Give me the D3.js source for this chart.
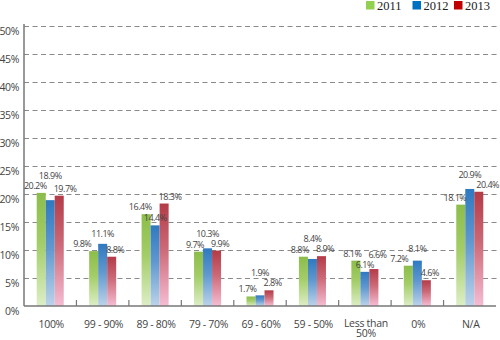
<!DOCTYPE html>
<html>
<head>
<meta charset="utf-8">
<script src="https://cdn.jsdelivr.net/npm/d3@7"></script>
<style>
  html, body { margin: 0; padding: 0; background: #fff; }
  svg { display: block; }
  .tick-label { font-family: "Open Sans", sans-serif; fill: #444; }
  .val-label { font-family: "Open Sans", sans-serif; fill: #444; font-size: 9px; letter-spacing: -0.5px; }
  .legend-text { font-family: "Liberation Serif", serif; fill: #222; font-size: 12.5px; }
</style>
</head>
<body>
<svg id="chart" width="500" height="340"></svg>
<script>
// ── Data ────────────────────────────────────────────────────────────────
const categories = ['100%', '99 - 90%', '89 - 80%', '79 - 70%', '69 - 60%', '59 - 50%', 'Less than 50%', '0%', 'N/A'];
const years = ['2011', '2012', '2013'];
const values2011 = [20.2, 9.8, 16.4, 9.7, 1.7, 8.8, 8.1, 7.2, 18.1];
const values2012 = [18.9, 11.1, 14.4, 10.3, 1.9, 8.4, 6.1, 8.1, 20.9];
const values2013 = [19.7, 8.8, 18.3, 9.9, 2.8, 8.9, 6.6, 4.6, 20.4];
const yTicks = [0, 5, 10, 15, 20, 25, 30, 35, 40, 45, 50];

const series = [values2011, values2012, values2013];

// ── Styling ─────────────────────────────────────────────────────────────
const legendColors = ['#92d050', '#0070c0', '#c00000'];
const gradStops = [
  ['#8cbd4a', '#a3cd68', '#ddeec6'],
  ['#2f79c0', '#5f98cf', '#bcd3ea'],
  ['#b33b47', '#cc6a78', '#f5bdd3'],
];

const svg = d3.select('#chart');
const M = { left: 24, right: 4, top: 26, bottom: 34 };
const W = 500, H = 340;

const x = d3.scaleBand().domain(categories).range([M.left, W - M.right]).padding(0);
const xs = d3.scaleBand().domain(years).range([0, x.bandwidth()])
  .paddingInner(0).paddingOuter(1.41);
const y = d3.scaleLinear().domain([0, 50]).range([H - M.bottom, M.top]);

// gradients
const defs = svg.append('defs');
years.forEach((yr, i) => {
  const g = defs.append('linearGradient').attr('id', 'grad-' + yr)
    .attr('x1', 0).attr('y1', 0).attr('x2', 0).attr('y2', 1);
  g.append('stop').attr('offset', '0%').attr('stop-color', gradStops[i][0]);
  g.append('stop').attr('offset', '45%').attr('stop-color', gradStops[i][1]);
  g.append('stop').attr('offset', '100%').attr('stop-color', gradStops[i][2]);
});

// ── Grid ────────────────────────────────────────────────────────────────
svg.append('g').selectAll('line').data(yTicks.filter(t => t > 0)).join('line')
  .attr('x1', M.left).attr('x2', W)
  .attr('y1', d => Math.round(y(d)) + 0.5).attr('y2', d => Math.round(y(d)) + 0.5)
  .attr('stroke', '#8a8a8a').attr('stroke-width', 1)
  .attr('stroke-dasharray', '5,3.5');

// y labels
svg.append('g').selectAll('text').data(yTicks).join('text')
  .attr('class', 'tick-label')
  .attr('x', 19).attr('y', d => y(d) + 9)
  .attr('text-anchor', 'end')
  .attr('font-size', 10.5)
  .attr('letter-spacing', -0.4)
  .text(d => d + '%');

// ── Bars ────────────────────────────────────────────────────────────────
const groups = svg.append('g').selectAll('g').data(categories).join('g')
  .attr('transform', d => `translate(${x(d)},0)`);

groups.selectAll('rect').data((c, i) => years.map((yr, s) => ({ yr, s, v: series[s][i] })))
  .join('rect')
  .attr('x', d => xs(d.yr))
  .attr('width', xs.bandwidth())
  .attr('y', d => y(d.v))
  .attr('height', d => y(0) - y(d.v))
  .attr('fill', d => `url(#grad-${d.yr})`);

// ── Axes lines ──────────────────────────────────────────────────────────
svg.append('line')
  .attr('x1', M.left).attr('x2', M.left)
  .attr('y1', M.top - 2).attr('y2', y(0))
  .attr('stroke', '#777').attr('stroke-width', 1.5);
svg.append('line')
  .attr('x1', M.left).attr('x2', W - M.right)
  .attr('y1', y(0)).attr('y2', y(0))
  .attr('stroke', '#777').attr('stroke-width', 1.5);
// band separators
svg.append('g').selectAll('line').data(categories.slice(1)).join('line')
  .attr('x1', d => x(d)).attr('x2', d => x(d))
  .attr('y1', y(0) - 6).attr('y2', y(0))
  .attr('stroke', '#777').attr('stroke-width', 1.2);

// x labels (long ones wrap onto two lines)
const xl = svg.append('g').selectAll('text').data(categories).join('text')
  .attr('class', 'tick-label')
  .attr('font-size', 10.5)
  .attr('letter-spacing', -0.3)
  .attr('text-anchor', 'middle')
  .attr('x', d => x(d) + x.bandwidth() / 2 + 1)
  .attr('y', 328);
xl.each(function (d) {
  const t = d3.select(this);
  if (d.length > 10) {
    const cut = d.lastIndexOf(' ');
    t.attr('y', 326.5);
    t.append('tspan').attr('x', t.attr('x')).text(d.slice(0, cut));
    t.append('tspan').attr('x', t.attr('x')).attr('dy', 10).text(d.slice(cut + 1));
  } else {
    t.text(d);
  }
});

// ── Value labels ────────────────────────────────────────────────────────
// green label hugs the left of its bar, blue is centred, red hugs the right.
// If blue clashes with both neighbours it climbs above them; if it clashes
// with just one, the taller of the pair climbs and a lower neighbour also
// slides sideways out from under blue.
const labelG = svg.append('g');
const TXT_H = 10;
categories.forEach((c, i) => {
  const bw = xs.bandwidth();
  const labs = years.map((yr, s) => {
    const bx = x(c) + xs(yr);
    const v = series[s][i];
    const el = labelG.append('text').attr('class', 'val-label')
      .attr('text-anchor', 'start')
      .text(v.toFixed(1) + '%');
    const w = el.node().getComputedTextLength();
    const x0 = s === 0 ? bx + bw + 1 - w : s === 1 ? bx + bw / 2 - w / 2 : bx - 1;
    return { el, v, s, w, x0, base: y(v) - 4 };
  });
  const hit = (a, b) => a.base - TXT_H < b.base && b.base - TXT_H < a.base &&
    a.x0 < b.x0 + b.w && b.x0 < a.x0 + a.w;
  const [gL, bL, rL] = labs;
  const hG = hit(gL, bL), hR = hit(rL, bL);
  if (hG && hR) {
    bL.base = Math.min(gL.base, rL.base) - TXT_H;
  } else if (hG || hR) {
    const n = hG ? gL : rL;
    const [hi, lo] = n.v > bL.v ? [n, bL] : [bL, n];
    hi.base = lo.base - TXT_H;
    if (lo === gL) gL.x0 = Math.min(gL.x0, bL.x0 - gL.w);
    if (lo === rL) rL.x0 = Math.max(rL.x0, bL.x0 + bL.w);
  }
  // keep inside the frame
  labs.forEach(l => { if (l.x0 + l.w > W - 1) l.x0 = W - 1 - l.w; });
  labs.forEach(l => l.el.attr('x', l.x0).attr('y', l.base));
});

// ── Legend ──────────────────────────────────────────────────────────────
const legendX = [366, 412.5, 454];
const leg = svg.append('g').selectAll('g').data(years).join('g')
  .attr('transform', (d, i) => `translate(${legendX[i]},1)`);
leg.append('rect').attr('width', 8.5).attr('height', 8.5)
  .attr('fill', (d, i) => legendColors[i]);
leg.append('text').attr('class', 'legend-text')
  .attr('x', 11).attr('y', 9).text(d => d);
</script>
</body>
</html>
